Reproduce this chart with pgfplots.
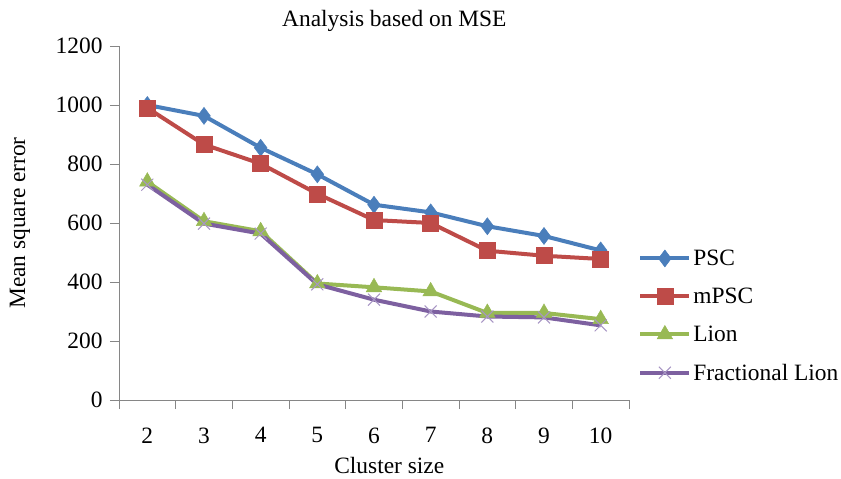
\documentclass[border=0pt]{standalone}
\usepackage{fontspec}
\setmainfont{Liberation Serif}
\usepackage{pgfplots}
\pgfplotsset{compat=1.18}

\definecolor{pscblue}{HTML}{4A7EBB}
\definecolor{mpscred}{HTML}{BE4B48}
\definecolor{liongreen}{HTML}{98B954}
\definecolor{fracpurple}{HTML}{7D60A0}
\definecolor{fracmark}{HTML}{A795C4}
\definecolor{axisgray}{HTML}{868686}

\newcommand{\chartfont}{\fontsize{23.5}{27}\selectfont}

\begin{document}
\begin{tikzpicture}[x=1bp,y=1bp]
\begin{axis}[
  at={(0,0)}, anchor=south west,
  scale only axis, width=510bp, height=354bp,
  xmin=1.5, xmax=10.5, ymin=0, ymax=1200,
  axis x line=bottom, axis y line=left,
  axis line style={-, axisgray, line width=0.9bp},
  xtick={2,...,10},
  minor xtick={1.5,2.5,...,10.5},
  major x tick style={draw=none},
  minor x tick style={axisgray, line width=0.9bp},
  minor tick length=9bp,
  ytick={0,200,...,1200},
  y tick style={axisgray, line width=0.9bp},
  major tick length=9bp,
  tick align=outside,
  /pgf/number format/assume math mode=true,
  /pgf/number format/1000 sep={},
  tick label style={font=\chartfont, text=black},
  xticklabel style={yshift=-15bp},
  yticklabel style={xshift=-4bp},
  title={Analysis based on MSE},
  title style={at={(axis description cs:0.54,1)}, anchor=center, yshift=19bp, font=\chartfont},
  xlabel={Cluster size},
  xlabel style={at={(axis description cs:0.53,0)}, anchor=center, yshift=-65bp, font=\chartfont},
  ylabel={Mean square error},
  ylabel style={at={(axis description cs:-0.194,0.5)}, anchor=center, rotate=0, font=\chartfont},
  every axis plot/.append style={line width=4bp},
  legend style={
    at={(axis description cs:1.018,0.43)}, anchor=north west,
    draw=none, fill=none, inner sep=0pt,
    font=\chartfont,
    row sep=17bp,
    /tikz/every even column/.append style={column sep=2bp},
  },
  legend cell align=left,
  legend image code/.code={
    \draw[mark repeat=2, mark phase=2] plot coordinates {(0bp,0bp) (24.5bp,0bp) (49bp,0bp)};
  },
]
% PSC
\addplot[pscblue, mark=diamond*, mark size=8.5bp, mark options={solid, line width=0.5bp}]
  coordinates {(2,1000) (3,963) (4,855) (5,765) (6,662) (7,636) (8,589) (9,556) (10,507)};
\addlegendentry{PSC}
% mPSC
\addplot[mpscred, mark=square*, mark size=8bp, mark options={solid, line width=0.5bp}]
  coordinates {(2,990) (3,866) (4,801) (5,699) (6,610) (7,600) (8,506) (9,489) (10,478)};
\addlegendentry{mPSC}
% Lion
\addplot[liongreen, mark=triangle*, mark size=9bp, mark options={solid, line width=0.5bp}]
  coordinates {(2,740) (3,606) (4,572) (5,395) (6,382) (7,368) (8,295) (9,295) (10,274)};
\addlegendentry{Lion}
% Fractional Lion
\addplot[fracpurple, mark=x, mark size=8.5bp, mark options={solid, draw=fracmark, line width=1bp}]
  coordinates {(2,730) (3,598) (4,564) (5,392) (6,340) (7,300) (8,283) (9,280) (10,253)};
\addlegendentry{Fractional Lion}
\end{axis}
\useasboundingbox (-119bp,-79bp) rectangle (722bp,400bp);
\end{tikzpicture}
\end{document}
